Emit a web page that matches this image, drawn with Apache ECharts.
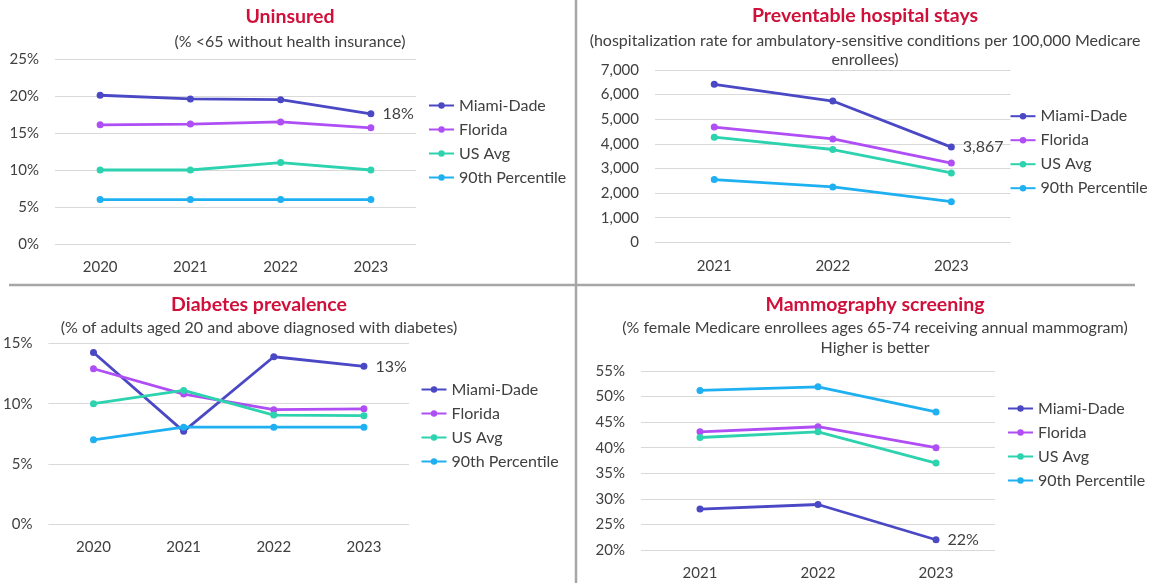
<!DOCTYPE html>
<html><head><meta charset="utf-8">
<script src="https://cdn.jsdelivr.net/npm/echarts@6/dist/echarts.min.js"></script>
<style>html,body{margin:0;padding:0;background:#fff}#c{width:1151px;height:583px}</style>
</head><body><div id="c"></div>
<script>
// ---- data ----
const seriesNames = ['Miami-Dade', 'Florida', 'US Avg', '90th Percentile'];

const uninsuredYears = ['2020', '2021', '2022', '2023'];
const uninsuredMiami = [20.1, 19.6, 19.5, 17.6];
const uninsuredFlorida = [16.1, 16.2, 16.5, 15.7];
const uninsuredUS = [10.0, 10.0, 11.0, 10.0];
const uninsured90 = [6.0, 6.0, 6.0, 6.0];

const hospYears = ['2021', '2022', '2023'];
const hospMiami = [6420, 5740, 3867];
const hospFlorida = [4680, 4200, 3220];
const hospUS = [4270, 3770, 2820];
const hosp90 = [2550, 2250, 1650];

const diabYears = ['2020', '2021', '2022', '2023'];
const diabMiami = [14.25, 7.7, 13.9, 13.1];
const diabFlorida = [12.9, 10.8, 9.5, 9.57];
const diabUS = [10.0, 11.1, 9.05, 9.0];
const diab90 = [7.0, 8.05, 8.05, 8.05];

const mammoYears = ['2021', '2022', '2023'];
const mammoMiami = [28.0, 28.9, 22.0];
const mammoFlorida = [43.1, 44.1, 40.0];
const mammoUS = [42.0, 43.1, 37.0];
const mammo90 = [51.2, 51.9, 47.0];

// ---- style ----
const FONT = 'Lato, "Open Sans", sans-serif';
const TXT = '#404040';
const colors = ['#4a48c4', '#b04ef5', '#2dd2ae', '#1fb0f2'];
const TITLE_COLOR = '#d0103a';

const pct = v => v + '%';
const comma = v => v.toLocaleString('en-US');

const panels = [
  { title: 'Uninsured', sub: '(% <65 without health insurance)', cx: 290, ty: 6.2, sy: 31.7,
    grid: { left: 55, top: 59, width: 361, height: 185 },
    cats: uninsuredYears, sets: [uninsuredMiami, uninsuredFlorida, uninsuredUS, uninsured90],
    min: 0, max: 25, interval: 5, fmt: pct, lab: v => Math.round(v) + '%',
    lx: 428, ly: 97.5 },
  { title: 'Preventable hospital stays',
    sub: '(hospitalization rate for ambulatory-sensitive conditions per 100,000 Medicare\nenrollees)',
    cx: 865, ty: 5.5, sy: 30.7,
    grid: { left: 655, top: 70, width: 355.6, height: 172.3 },
    cats: hospYears, sets: [hospMiami, hospFlorida, hospUS, hosp90],
    min: 0, max: 7000, interval: 1000, fmt: comma, lab: v => comma(v),
    lx: 1009.5, ly: 108.2 },
  { title: 'Diabetes prevalence', sub: '(% of adults aged 20 and above diagnosed with diabetes)',
    cx: 259, ty: 293.8, sy: 318.3,
    grid: { left: 43, top: 343.5, width: 366, height: 180.5 },
    cats: diabYears, sets: [diabMiami, diabFlorida, diabUS, diab90],
    min: 0, max: 15, interval: 5, fmt: pct, lab: v => Math.round(v) + '%',
    lx: 420.5, ly: 381.5 },
  { title: 'Mammography screening',
    sub: '(% female Medicare enrollees ages 65-74 receiving annual mammogram)\nHigher is better',
    cx: 875, ty: 294.5, sy: 318.3,
    grid: { left: 641, top: 371, width: 354, height: 179 },
    cats: mammoYears, sets: [mammoMiami, mammoFlorida, mammoUS, mammo90],
    min: 20, max: 55, interval: 5, fmt: pct, lab: v => Math.round(v) + '%',
    lx: 1007, ly: 400.5 }
];

const title = [], grid = [], xAxis = [], yAxis = [], legend = [], series = [];
panels.forEach((p, gi) => {
  title.push({ text: p.title, left: p.cx, top: p.ty, textAlign: 'center', padding: 0,
    textStyle: { fontFamily: FONT, fontSize: 19.5, fontWeight: 'bold', color: TITLE_COLOR, lineHeight: 21 } });
  title.push({ text: p.sub, left: p.cx, top: p.sy, textAlign: 'center', padding: 0,
    textStyle: { fontFamily: FONT, fontSize: 16, fontWeight: 'normal', color: TXT, lineHeight: 19.5 } });
  grid.push(Object.assign({ containLabel: false }, p.grid));
  xAxis.push({ type: 'category', gridIndex: gi, data: p.cats, boundaryGap: true,
    axisLine: { show: false }, axisTick: { show: false },
    axisLabel: { margin: 16, fontSize: 15, color: TXT, fontFamily: FONT } });
  yAxis.push({ type: 'value', gridIndex: gi, min: p.min, max: p.max, interval: p.interval,
    axisLine: { show: false }, axisTick: { show: false },
    splitLine: { lineStyle: { color: '#d9d9d9', width: 1 } },
    axisLabel: { margin: 16, fontSize: 15, color: TXT, fontFamily: FONT, formatter: p.fmt } });
  legend.push({ data: seriesNames, orient: 'vertical', left: p.lx, top: p.ly, padding: 0,
    itemWidth: 25, itemHeight: 8, itemGap: 8, selectedMode: false,
    textStyle: { fontSize: 16, color: TXT, fontFamily: FONT, lineHeight: 16 } });
  p.sets.forEach((data, ci) => {
    series.push({
      type: 'line', name: seriesNames[ci], xAxisIndex: gi, yAxisIndex: gi,
      data: data.map((v, i) => (ci === 0 && i === data.length - 1)
        ? { value: v, label: { show: true, position: 'right', distance: 8, formatter: () => p.lab(v),
            color: TXT, fontSize: 16, fontFamily: FONT } }
        : v),
      symbol: 'circle', symbolSize: 7, showSymbol: true,
      lineStyle: { width: 2.8, color: colors[ci] }, itemStyle: { color: colors[ci] },
      emphasis: { disabled: true }, animation: false
    });
  });
});

const chart = echarts.init(document.getElementById('c'), null, { renderer: 'canvas' });
chart.setOption({
  backgroundColor: '#ffffff',
  animation: false,
  title, grid, xAxis, yAxis, legend, series,
  graphic: [
    { type: 'line', shape: { x1: 576, y1: 0, x2: 576, y2: 583 }, style: { stroke: '#a6a6a6', lineWidth: 2.5 } },
    { type: 'line', shape: { x1: 9, y1: 285, x2: 1135, y2: 285 }, style: { stroke: '#a6a6a6', lineWidth: 2.5 } }
  ]
});
</script></body></html>
